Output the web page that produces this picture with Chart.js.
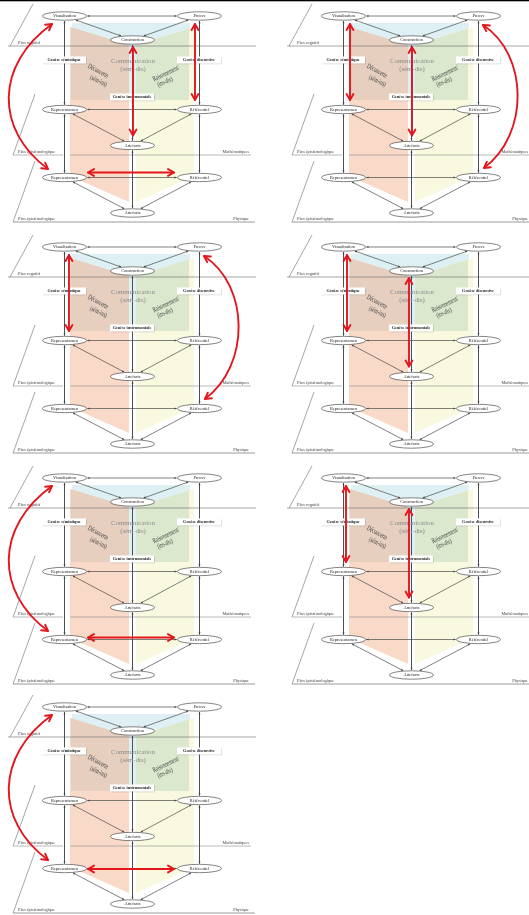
<!DOCTYPE html>
<html><head><meta charset="utf-8">
<script src="https://cdn.jsdelivr.net/npm/chart.js@4.4.1/dist/chart.umd.min.js"></script>
<style>html,body{margin:0;padding:0;background:#fff}#wrap{width:529px;height:915px;position:relative}</style>
</head><body><div id="wrap"><canvas id="c"></canvas></div>
<script>
// ---- diagram data (local coordinates inside one panel) ----
const nodeLabels = ['Visualisation','Preuve','Construction','Representamen','Référentiel','Artefacts','Representamen','Référentiel','Artefacts'];
const nodeX = [64, 199, 132, 64, 199, 132, 64, 199, 132];
const nodeY = [16, 16, 40, 109.5, 109.5, 145.5, 177.5, 177.5, 213];
const edgeFrom = [0,0,1,0,1,2,3,3,4,3,4,5,6,6,7];
const edgeTo   = [1,2,2,3,4,5,4,5,5,6,7,8,7,8,8];
const panelDX = [0,279,0,279,0,279,0];
const panelDY = [0,0,231,231,462,462,691];
// genesis labels
const genLabels = ['Genèse sémiotique','Genèse discursive','Genèse instrumentale'];
const genX = [64, 199, 132];
const genY = [60, 60, 97];
// planes
const planeLabels = ['Plan cognitif','Plan épistémologique','Plan épistémologique'];
const planeY = [46, 155, 222];
const planeSlantTop = [4, 94, 161];
const domainLabels = ['', 'Mathématiques', 'Physique'];
// red arrows (panel, from node, to node, lateral shift)
const redPanel = [0,0,0,0, 1,1,1, 2,2, 3,3, 4,4, 5,5, 6,6];
const redFrom  = [0,2,1,6, 0,2,1, 0,1, 0,2, 0,6, 0,2, 0,6];
const redTo    = [6,5,4,7, 3,5,7, 3,7, 3,5, 6,7, 3,5, 6,7];
const redShift = [0,1,-4,-5, 7,1,0, 5,0, 4,-2, 0,-2, 3,-2, 0,0.5];
// coloured regions
const bluePoly   = [[72,23],[190,23],[190,100],[72,100]];
const orangePoly = [[70,27],[129,45],[129,202],[70,176]];
const yellowPoly = [[136,45],[194,27],[194,176],[136,202]];
const tanPoly    = [[71,27.3],[129,45],[129,100],[71,100]];
const greenPoly  = [[136,45],[189,28.6],[189,100],[136,100]];

const RX = 22, RY = 4.2;

function clipSeg(a, b) {
  const ax = nodeX[a], ay = nodeY[a], bx = nodeX[b], by = nodeY[b];
  const dx = bx - ax, dy = by - ay;
  const t = 1 / Math.sqrt((dx / RX) ** 2 + (dy / RY) ** 2);
  const L = Math.hypot(dx, dy), g = 0.8 / L;
  return [ax + dx * (t + g), ay + dy * (t + g), bx - dx * (t + g), by - dy * (t + g)];
}

const datasets = [];
for (let p = 0; p < 7; p++) {
  for (let e = 0; e < edgeFrom.length; e++) {
    const s = clipSeg(edgeFrom[e], edgeTo[e]);
    datasets.push({
      data: [{x: s[0] + panelDX[p], y: s[1] + panelDY[p]}, {x: s[2] + panelDX[p], y: s[3] + panelDY[p]}],
      showLine: true, borderColor: '#4a4a4a', borderWidth: 0.7, pointRadius: 0, pointHoverRadius: 0, fill: false
    });
  }
}

const diagram = {
  id: 'diagram',
  beforeDatasetDraw(chart) { chart.ctx.save(); chart.ctx.translate(0.5, 0); },
  afterDatasetDraw(chart) { chart.ctx.restore(); },
  beforeDatasetsDraw(chart) {
    const ctx = chart.ctx, xs = chart.scales.x, ys = chart.scales.y;
    const X = v => xs.getPixelForValue(v), Y = v => ys.getPixelForValue(v);
    ctx.save();
    // top black bar
    ctx.fillStyle = '#000';
    ctx.fillRect(X(0), Y(0), X(529) - X(0), Y(1.3) - Y(0));
    const poly = (pts, dx, dy, col) => {
      ctx.beginPath();
      pts.forEach((q, i) => i ? ctx.lineTo(X(q[0] + dx), Y(q[1] + dy)) : ctx.moveTo(X(q[0] + dx), Y(q[1] + dy)));
      ctx.closePath(); ctx.fillStyle = col; ctx.fill();
    };
    for (let p = 0; p < 7; p++) {
      const dx = panelDX[p], dy = panelDY[p];
      poly(bluePoly, dx, dy, '#dff0f4');
      poly(orangePoly, dx, dy, '#f9d9c8');
      poly(yellowPoly, dx, dy, '#f9f9e0');
      poly(tanPoly, dx, dy, '#e6cfbf');
      poly(greenPoly, dx, dy, '#dce8ce');
      // plane lines
      ctx.lineWidth = 0.6;
      for (let k = 0; k < 3; k++) {
        const y = planeY[k] + dy;
        ctx.strokeStyle = '#6a6a6a';
        ctx.beginPath();
        ctx.moveTo(X(planeSlantTop[k] === 4 ? 33 + dx : 35 + dx), Y(planeSlantTop[k] + dy));
        ctx.lineTo(X((k === 0 ? 10 : 13) + dx), Y(y));
        ctx.stroke();
        ctx.beginPath();
        if (k === 1) {
          ctx.moveTo(X(13 + dx), Y(y)); ctx.lineTo(X(63 + dx), Y(y));
          ctx.moveTo(X(70 + dx), Y(y)); ctx.lineTo(X(251 + dx), Y(y));
          ctx.strokeStyle = '#8a8a8a';
        } else if (k === 2) {
          ctx.moveTo(X(13 + dx), Y(y)); ctx.lineTo(X(255 + dx), Y(y));
          ctx.strokeStyle = '#9a9a9a'; ctx.lineWidth = 1;
        } else {
          ctx.moveTo(X(8 + dx), Y(y)); ctx.lineTo(X(256 + dx), Y(y));
        }
        ctx.stroke();
        ctx.lineWidth = 0.6;
        ctx.fillStyle = '#444';
        ctx.font = "4.3px 'Liberation Serif'";
        ctx.textAlign = 'left'; ctx.textBaseline = 'alphabetic';
        ctx.fillText(planeLabels[k], X(18 + dx), Y(y - 2.3));
        if (domainLabels[k]) {
          ctx.textAlign = 'right';
          ctx.fillText(domainLabels[k], X(249 + dx), Y(y - 2.3));
        }
      }
    }
    ctx.restore();
  },
  afterDatasetsDraw(chart) {
    const ctx = chart.ctx, xs = chart.scales.x, ys = chart.scales.y;
    const X = v => xs.getPixelForValue(v), Y = v => ys.getPixelForValue(v);
    const sx = X(1) - X(0), sy = Y(1) - Y(0);
    ctx.save();
    const head = (tx, ty, ux, uy, len, w, col, filled) => {
      const L = Math.hypot(ux, uy); ux /= L; uy /= L;
      const bx = tx - ux * len, by = ty - uy * len;
      ctx.beginPath();
      ctx.moveTo(bx - uy * w, by + ux * w);
      ctx.lineTo(tx, ty);
      ctx.lineTo(bx + uy * w, by - ux * w);
      if (filled) { ctx.closePath(); ctx.fillStyle = col; ctx.fill(); }
      else { ctx.strokeStyle = col; ctx.stroke(); }
    };
    for (let p = 0; p < 7; p++) {
      const dx = panelDX[p], dy = panelDY[p];
      // small black arrowheads on edges
      for (let e = 0; e < edgeFrom.length; e++) {
        const s = clipSeg(edgeFrom[e], edgeTo[e]);
        const x1 = X(s[0] + dx) + 0.5, y1 = Y(s[1] + dy), x2 = X(s[2] + dx) + 0.5, y2 = Y(s[3] + dy);
        head(x2, y2, x2 - x1, y2 - y1, 2.2, 1.0, '#444', true);
        head(x1, y1, x1 - x2, y1 - y2, 2.2, 1.0, '#444', true);
      }
      // texts in regions
      ctx.fillStyle = '#8c8c8c';
      ctx.textAlign = 'center'; ctx.textBaseline = 'middle';
      ctx.font = "6.8px 'Liberation Serif'";
      ctx.fillText('Communication', X(133 + dx), Y(61.7 + dy));
      ctx.fillText('(sém-dis)', X(133 + dx), Y(69.7 + dy));
      ctx.fillStyle = '#3f3f3f';
      ctx.font = "6px 'Liberation Serif'";
      ctx.save(); ctx.translate(X(98 + dx), Y(71 + dy)); ctx.rotate(0.5); ctx.scale(0.8, 1.25);
      ctx.fillText('Découverte', 0, 0); ctx.restore();
      ctx.save(); ctx.translate(X(98.5 + dx), Y(81 + dy)); ctx.rotate(0.45); ctx.scale(0.8, 1.25);
      ctx.fillText('(sém-ins)', 0, 0); ctx.restore();
      ctx.save(); ctx.translate(X(166 + dx), Y(73.5 + dy)); ctx.rotate(-0.45); ctx.scale(0.8, 1.25);
      ctx.fillText('Raisonnement/', 0, 0); ctx.restore();
      ctx.save(); ctx.translate(X(165 + dx), Y(82 + dy)); ctx.rotate(-0.4); ctx.scale(0.8, 1.25);
      ctx.fillText('(ins-dis)', 0, 0); ctx.restore();
      // genesis boxes
      for (let g = 0; g < 3; g++) {
        const cx = X(genX[g] + dx), cy = Y(genY[g] + dy);
        const w = 44 * sx, h = 7 * sy;
        ctx.fillStyle = 'rgba(0,0,0,0.15)';
        ctx.fillRect(cx - w / 2 + 0.8, cy - h / 2 + 0.8, w, h);
        ctx.fillStyle = '#fff';
        ctx.fillRect(cx - w / 2, cy - h / 2, w, h);
        ctx.fillStyle = '#222';
        ctx.font = "bold 4.2px 'Liberation Serif'";
        ctx.fillText(genLabels[g], cx, cy + 0.2);
      }
      // nodes
      for (let n = 0; n < nodeLabels.length; n++) {
        const cx = X(nodeX[n] + dx), cy = Y(nodeY[n] + dy);
        ctx.beginPath();
        ctx.ellipse(cx + 0.5, cy, RX * sx, RY * sy, 0, 0, Math.PI * 2);
        ctx.fillStyle = '#fff'; ctx.fill();
        ctx.lineWidth = 0.6; ctx.strokeStyle = '#333'; ctx.stroke();
        ctx.fillStyle = '#222';
        ctx.font = "4.4px 'Liberation Serif'";
        ctx.fillText(nodeLabels[n], cx + 0.5, cy + 0.2);
      }
    }
    // red arrows
    ctx.strokeStyle = '#e3161d'; ctx.lineWidth = 1.9; ctx.lineCap = 'round'; ctx.lineJoin = 'round';
    for (let r = 0; r < redPanel.length; r++) {
      const p = redPanel[r], dx = panelDX[p], dy = panelDY[p];
      const a = redFrom[r], b = redTo[r], sh = redShift[r];
      let P0, P3, C1 = null, C2 = null;
      if (a === 0 && b === 6) {          // left curve
        P0 = [nodeX[a] - 12, nodeY[a] + 8]; P3 = [nodeX[b] - 16, nodeY[b] - 8.5];
        C1 = [P0[0] - 57, P0[1] + 41]; C2 = [P3[0] - 53, P3[1] - 39];
      } else if (a === 1 && b === 7) {   // right curve
        P0 = [nodeX[a] + 5, nodeY[a] + 9]; P3 = [nodeX[b] + 6, nodeY[b] - 9.5];
        C1 = [P0[0] + 46, P0[1] + 30]; C2 = [P3[0] + 45, P3[1] - 33];
      } else if (nodeY[a] === nodeY[b]) { // horizontal
        P0 = [nodeX[a] + 24, nodeY[a] + sh]; P3 = [nodeX[b] - 25, nodeY[b] + sh];
      } else {                            // vertical
        const top = a === 2 ? 7 : 8, bot = a === 2 ? 10 : 9.5;
        P0 = [nodeX[a] + sh, nodeY[a] + top]; P3 = [nodeX[b] + sh, nodeY[b] - bot];
      }
      const px = q => [X(q[0] + dx), Y(q[1] + dy)];
      const p0 = px(P0), p3 = px(P3);
      ctx.beginPath(); ctx.moveTo(p0[0], p0[1]);
      let d0, d3;
      if (C1) {
        const c1 = px(C1), c2 = px(C2);
        ctx.bezierCurveTo(c1[0], c1[1], c2[0], c2[1], p3[0], p3[1]);
        d0 = [p0[0] - c1[0], p0[1] - c1[1]]; d3 = [p3[0] - c2[0], p3[1] - c2[1]];
      } else {
        ctx.lineTo(p3[0], p3[1]);
        d0 = [p0[0] - p3[0], p0[1] - p3[1]]; d3 = [p3[0] - p0[0], p3[1] - p0[1]];
      }
      ctx.stroke();
      head(p0[0], p0[1], d0[0], d0[1], 6, 3.4, '#e3161d', false);
      head(p3[0], p3[1], d3[0], d3[1], 6, 3.4, '#e3161d', false);
    }
    ctx.restore();
  }
};

new Chart(document.getElementById('c'), {
  type: 'scatter',
  data: { datasets },
  options: {
    animation: false, responsive: true, maintainAspectRatio: false,
    layout: { padding: 0 },
    events: [],
    plugins: { legend: { display: false }, tooltip: { enabled: false } },
    scales: {
      x: { type: 'linear', min: 0, max: 529, display: false },
      y: { type: 'linear', min: 0, max: 915, reverse: true, display: false }
    }
  },
  plugins: [diagram]
});
</script></body></html>
